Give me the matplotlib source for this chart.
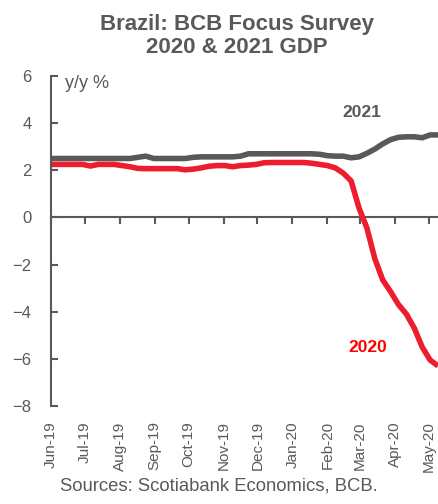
import matplotlib
matplotlib.use("Agg")
import matplotlib.pyplot as plt
import matplotlib.dates as mdates
import pandas as pd

# ---- data (weekly Focus survey medians) ----
dates = pd.date_range("2019-06-01", periods=50, freq="7D")

gdp_2021 = [2.5, 2.5, 2.5, 2.5, 2.5, 2.5, 2.5, 2.5, 2.5, 2.5,
            2.5, 2.55, 2.6, 2.5, 2.5, 2.5, 2.5, 2.5, 2.55, 2.57,
            2.57, 2.57, 2.57, 2.57, 2.6, 2.7, 2.7, 2.7, 2.7, 2.7,
            2.7, 2.7, 2.7, 2.7, 2.68, 2.62, 2.6, 2.6, 2.53, 2.57,
            2.72, 2.9, 3.12, 3.3, 3.4, 3.42, 3.42, 3.38, 3.5, 3.5]

gdp_2020 = [2.25, 2.25, 2.25, 2.25, 2.25, 2.18, 2.25, 2.25, 2.25, 2.2,
            2.15, 2.08, 2.07, 2.07, 2.07, 2.07, 2.07, 2.02, 2.05, 2.1,
            2.17, 2.2, 2.2, 2.15, 2.2, 2.22, 2.25, 2.32, 2.33, 2.33,
            2.33, 2.33, 2.33, 2.3, 2.25, 2.2, 2.1, 1.88, 1.55, 0.4,
            -0.45, -1.75, -2.65, -3.15, -3.7, -4.1, -4.7, -5.5, -6.05, -6.3]

month_ticks = pd.date_range("2019-06-01", "2020-05-01", freq="MS")

GREY = "#595959"
RED = "#ED1C2E"

plt.rcParams["font.family"] = ["Liberation Sans", "DejaVu Sans"]

fig = plt.figure(figsize=(4.38, 5.04), dpi=100)
ax = fig.add_axes([51 / 438, 1 - 406 / 504, 387 / 438, 330 / 504])

ax.plot(dates, gdp_2021, color=GREY, lw=4, solid_capstyle="butt")
ax.plot(dates, gdp_2020, color=RED, lw=4, solid_capstyle="butt")

ax.set_xlim(dates[0], dates[-1])
ax.set_ylim(-8, 6)
ax.set_yticks(range(-8, 7, 2))

# x labels at the bottom, no marks there
ax.set_xticks(month_ticks)
ax.xaxis.set_major_formatter(mdates.DateFormatter("%b-%y"))
ax.tick_params(axis="x", length=0, pad=11, labelsize=11,
               labelcolor=GREY, labelrotation=90)
ax.tick_params(axis="y", direction="in", length=5, width=1.5,
               color=GREY, labelcolor=GREY, labelsize=12, pad=14)

for s in ["top", "right", "bottom"]:
    ax.spines[s].set_visible(False)
ax.spines["left"].set_color(GREY)
ax.spines["left"].set_linewidth(1.5)

# zero line with month tick marks
zero_ax = ax.secondary_xaxis(0, transform=ax.transData)
zero_ax.set_xticks(mdates.date2num(month_ticks))
zero_ax.tick_params(axis="x", direction="out", length=5, width=1.5,
                    color=GREY, labelbottom=False)
zero_ax.spines["bottom"].set_color(GREY)
zero_ax.spines["bottom"].set_linewidth(1.5)

ax.text(0.036, 0.976, "y/y %", transform=ax.transAxes, color=GREY,
        fontsize=13, va="center", ha="left")
ax.text(0.804, 0.888, "2021", transform=ax.transAxes, color=GREY,
        fontsize=12.5, fontweight="bold", ha="center", va="center")
ax.text(0.819, 0.176, "2020", transform=ax.transAxes, color="#FF0000",
        fontsize=12.5, fontweight="bold", ha="center", va="center")

fig.text(237 / 438, 1 - 36 / 504, "Brazil: BCB Focus Survey\n2020 & 2021 GDP",
         ha="center", va="center", color=GREY, fontsize=16,
         fontweight="bold", linespacing=1.15)
fig.text(219 / 438, 1 - 486 / 504, "Sources: Scotiabank Economics, BCB.",
         ha="center", va="center", color=GREY, fontsize=13.3)

fig.savefig("out.png", dpi=100)
